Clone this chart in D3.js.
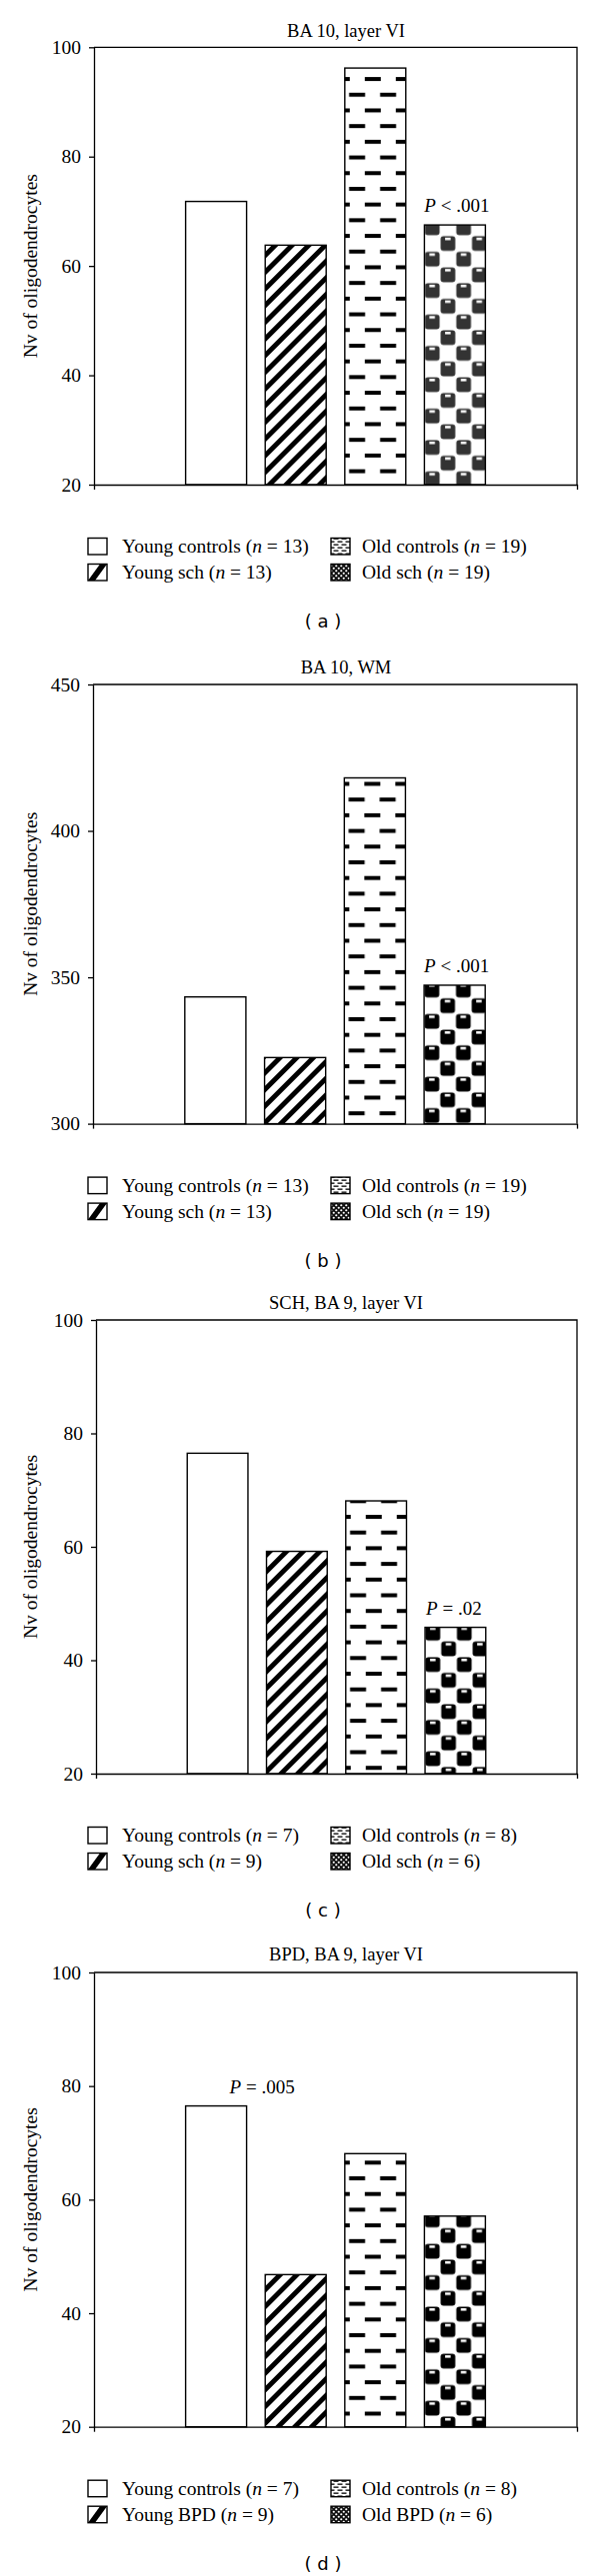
<!DOCTYPE html>
<html><head><meta charset="utf-8">
<script src="https://cdn.jsdelivr.net/npm/d3@7"></script>
<style>
html,body{margin:0;padding:0;background:#fff;}
svg{display:block;}
</style></head><body>
<script>
// ---------- data ----------
const panelIds = ["a", "b", "c", "d"];
const titles = ["BA 10, layer VI", "BA 10, WM", "SCH, BA 9, layer VI", "BPD, BA 9, layer VI"];
const yLabel = "Nv of oligodendrocytes";

const valuesA = [71.8, 63.8, 96.2, 67.5];
const valuesB = [343.3, 322.6, 418.1, 347.3];
const valuesC = [76.5, 59.2, 68.1, 45.8];
const valuesD = [76.5, 46.8, 68.1, 57.1];

const domainA = [20, 100], domainB = [300, 450], domainC = [20, 100], domainD = [20, 100];
const ticksA = [20, 40, 60, 80, 100];
const ticksB = [300, 350, 400, 450];
const ticksC = [20, 40, 60, 80, 100];
const ticksD = [20, 40, 60, 80, 100];

const groupsSch = ["Young controls", "Young sch", "Old controls", "Old sch"];
const groupsBpd = ["Young controls", "Young BPD", "Old controls", "Old BPD"];
const nA = [13, 13, 19, 19];
const nB = [13, 13, 19, 19];
const nC = [7, 9, 8, 6];
const nD = [7, 9, 8, 6];

const pTexts = ["< .001", "< .001", "= .02", "= .005"];
const pBars = [3, 3, 3, 0];

const panelsData = [
  {values: valuesA, domain: domainA, ticks: ticksA, groups: groupsSch, n: nA},
  {values: valuesB, domain: domainB, ticks: ticksB, groups: groupsSch, n: nB},
  {values: valuesC, domain: domainC, ticks: ticksC, groups: groupsSch, n: nC},
  {values: valuesD, domain: domainD, ticks: ticksD, groups: groupsBpd, n: nD}
];

// ---------- layout / style ----------
const layout = [
  {top: 47.3, bottom: 485, left: 94, right: 577, titleY: 37, dashOff: 11, checkOff: -5, dark: "#333", pDx: 2},
  {top: 685, bottom: 1124.6, left: 93, right: 577, titleY: 674, dashOff: 6, checkOff: -3, dark: "#000", pDx: 2},
  {top: 1321, bottom: 1775, left: 96, right: 577, titleY: 1310, dashOff: 16, checkOff: -2, dark: "#000", pDx: -1.5},
  {top: 1974, bottom: 2428.7, left: 94, right: 577, titleY: 1962, dashOff: 9, checkOff: -4, dark: "#000", pDx: 46}
];
const fills = ["plain", "hatch", "dash", "check"];
const SERIF = "'Liberation Serif', 'Times New Roman', serif";
const SANS = "'DejaVu Sans', sans-serif";

const W = 600, H = 2578;
const svg = d3.select("body").append("svg").attr("width", W).attr("height", H);
const defs = svg.append("defs");

// hatch pattern
(function () {
  const p = defs.append("pattern").attr("id", "hatch").attr("patternUnits", "userSpaceOnUse")
    .attr("width", 11.8).attr("height", 11.8).attr("patternTransform", "rotate(-45)");
  p.append("rect").attr("width", 11.8).attr("height", 11.8).attr("fill", "#fff");
  p.append("rect").attr("width", 11.8).attr("height", 4.9).attr("fill", "#000");
})();

function makeDash(id, x0, y0) {
  const p = defs.append("pattern").attr("id", id).attr("patternUnits", "userSpaceOnUse")
    .attr("width", 31).attr("height", 31.4).attr("patternTransform", `translate(${x0},${y0})`);
  p.append("rect").attr("width", 31).attr("height", 31.4).attr("fill", "#fff");
  p.append("rect").attr("x", 20).attr("y", 0).attr("width", 11).attr("height", 4).attr("fill", "#000");
  p.append("rect").attr("x", 0).attr("y", 0).attr("width", 5).attr("height", 4).attr("fill", "#000");
  p.append("rect").attr("x", 4.3).attr("y", 15.7).attr("width", 16).attr("height", 4).attr("fill", "#000");
}
function makeCheck(id, x0, y0, color) {
  const p = defs.append("pattern").attr("id", id).attr("patternUnits", "userSpaceOnUse")
    .attr("width", 31.4).attr("height", 31.4).attr("patternTransform", `translate(${x0},${y0})`);
  p.append("rect").attr("width", 31.4).attr("height", 31.4).attr("fill", "#fff");
  [[0, 0], [15.7, 15.7]].forEach(([cx, cy]) => {
    p.append("rect").attr("x", cx + 0.5).attr("y", cy + 0.5).attr("width", 14.7).attr("height", 14.7)
      .attr("rx", 3).attr("fill", color);
    p.append("rect").attr("x", cx + 5).attr("y", cy + 2).attr("width", 5.5).attr("height", 2.5).attr("fill", "#fff");
  });
}
// legend mini patterns
(function () {
  const p = defs.append("pattern").attr("id", "legDash").attr("patternUnits", "userSpaceOnUse")
    .attr("width", 8).attr("height", 6).attr("patternTransform", "translate(0,0)");
  p.append("rect").attr("width", 8).attr("height", 6).attr("fill", "#fff");
  p.append("rect").attr("x", 1.5).attr("y", 1.5).attr("width", 5).attr("height", 1.3).attr("fill", "#000");
  p.append("rect").attr("x", 5.5).attr("y", 4.5).attr("width", 5).attr("height", 1.3).attr("fill", "#000");
  p.append("rect").attr("x", -2.5).attr("y", 4.5).attr("width", 5).attr("height", 1.3).attr("fill", "#000");
  const q = defs.append("pattern").attr("id", "legCheck").attr("patternUnits", "userSpaceOnUse")
    .attr("width", 5).attr("height", 5);
  q.append("rect").attr("width", 5).attr("height", 5).attr("fill", "#111");
  q.append("circle").attr("cx", 1.25).attr("cy", 1.25).attr("r", 1.1).attr("fill", "#fff");
  q.append("circle").attr("cx", 3.75).attr("cy", 3.75).attr("r", 1.1).attr("fill", "#fff");
})();

panelsData.forEach((pd, i) => {
  const L = layout[i];
  const g = svg.append("g");
  const x = d3.scaleBand().domain(d3.range(pd.values.length)).range([L.left, L.right])
    .paddingInner(0.234).paddingOuter(1.151);
  const y = d3.scaleLinear().domain(pd.domain).range([L.bottom, L.top]);

  // patterns for this panel
  const dashX = x(2), dashTop = y(pd.values[2]);
  makeDash("dash" + i, dashX, dashTop + L.dashOff - 2);
  const chkX = x(3), chkTop = y(pd.values[3]);
  makeCheck("check" + i, chkX, chkTop + L.checkOff, L.dark);
  const fillFor = (k) => fills[k] === "plain" ? "#fff" :
    fills[k] === "hatch" ? "url(#hatch)" :
    fills[k] === "dash" ? `url(#dash${i})` : `url(#check${i})`;

  // title
  g.append("text").attr("x", 346).attr("y", L.titleY).attr("text-anchor", "middle")
    .style("font-family", SERIF).style("font-size", "18.5px").attr("fill", "#000").text(titles[i]);

  // bars
  g.selectAll("rect.bar").data(pd.values).enter().append("rect").attr("class", "bar")
    .attr("x", (d, k) => x(k)).attr("width", x.bandwidth())
    .attr("y", d => y(d)).attr("height", d => y(pd.domain[0]) - y(d))
    .attr("fill", (d, k) => fillFor(k)).attr("stroke", "#000").attr("stroke-width", 1.4);

  // frame (top + right)
  g.append("path").attr("d", `M${L.left},${L.top}H${L.right}V${L.bottom}`)
    .attr("fill", "none").attr("stroke", "#000").attr("stroke-width", 1.3);

  // y axis
  const ya = g.append("g").attr("transform", `translate(${L.left},0)`)
    .call(d3.axisLeft(y).tickValues(pd.ticks).tickSize(5).tickSizeOuter(0).tickPadding(8).tickFormat(d3.format("d")));
  ya.selectAll("path,line").attr("stroke", "#000").attr("stroke-width", 1.3);
  ya.selectAll("text").style("font-family", SERIF).style("font-size", "19.5px").attr("fill", "#000");

  // x axis (no labels, end ticks)
  const xl = d3.scaleLinear().domain([0, 1]).range([L.left, L.right]);
  const xa = g.append("g").attr("transform", `translate(0,${L.bottom})`)
    .call(d3.axisBottom(xl).tickValues([0, 1]).tickSize(5).tickSizeOuter(0).tickFormat(""));
  xa.selectAll("path,line").attr("stroke", "#000").attr("stroke-width", 1.3);

  // y label
  g.append("text").attr("transform", `translate(31,${(L.top + L.bottom) / 2}) rotate(-90)`)
    .attr("text-anchor", "middle").attr("dy", "0.32em")
    .style("font-family", SERIF).style("font-size", "19.5px").attr("fill", "#000").text(yLabel);

  // P annotation
  const pb = pBars[i];
  const pt = g.append("text").attr("x", x(pb) + x.bandwidth() / 2 + L.pDx).attr("y", y(pd.values[pb]) - 13)
    .attr("text-anchor", "middle").style("font-family", SERIF).style("font-size", "19px").attr("fill", "#000");
  pt.append("tspan").style("font-style", "italic").text("P");
  pt.append("tspan").text(" " + pTexts[i]);

  // legend
  const rowY = [L.bottom + 68, L.bottom + 94];
  const colBox = [88, 331], colText = [122, 362];
  const order = [[0, 0, 0], [1, 0, 1], [2, 1, 0], [3, 1, 1]]; // index, col, row
  order.forEach(([k, c, r]) => {
    const bx = colBox[c], by = rowY[r] - 14.5, bw = 19, bh = 16.5;
    const lg = g.append("g");
    if (fills[k] === "plain") {
      lg.append("rect").attr("x", bx).attr("y", by).attr("width", bw).attr("height", bh).attr("fill", "#fff");
    } else if (fills[k] === "hatch") {
      lg.append("rect").attr("x", bx).attr("y", by).attr("width", bw).attr("height", bh).attr("fill", "#fff");
      lg.append("polygon").attr("points",
        `${bx},${by + bh} ${bx + bw - 7},${by} ${bx + bw},${by} ${bx + 7},${by + bh}`).attr("fill", "#000");
    } else if (fills[k] === "dash") {
      lg.append("rect").attr("x", bx).attr("y", by).attr("width", bw).attr("height", bh).attr("fill", "url(#legDash)");
    } else {
      lg.append("rect").attr("x", bx).attr("y", by).attr("width", bw).attr("height", bh).attr("fill", "url(#legCheck)");
    }
    lg.append("rect").attr("x", bx).attr("y", by).attr("width", bw).attr("height", bh)
      .attr("fill", "none").attr("stroke", "#000").attr("stroke-width", 1.4);
    const t = lg.append("text").attr("x", colText[c]).attr("y", rowY[r])
      .style("font-family", SERIF).style("font-size", "19.5px").attr("fill", "#000");
    t.append("tspan").text(pd.groups[k] + " (");
    t.append("tspan").style("font-style", "italic").text("n");
    t.append("tspan").text(" = " + pd.n[k] + ")");
  });

  // caption
  g.append("text").attr("x", 323).attr("y", L.bottom + 143).attr("text-anchor", "middle")
    .style("font-family", SANS).style("font-size", "18px").attr("fill", "#000")
    .text("( " + panelIds[i] + " )");
});
</script>
</body></html>
